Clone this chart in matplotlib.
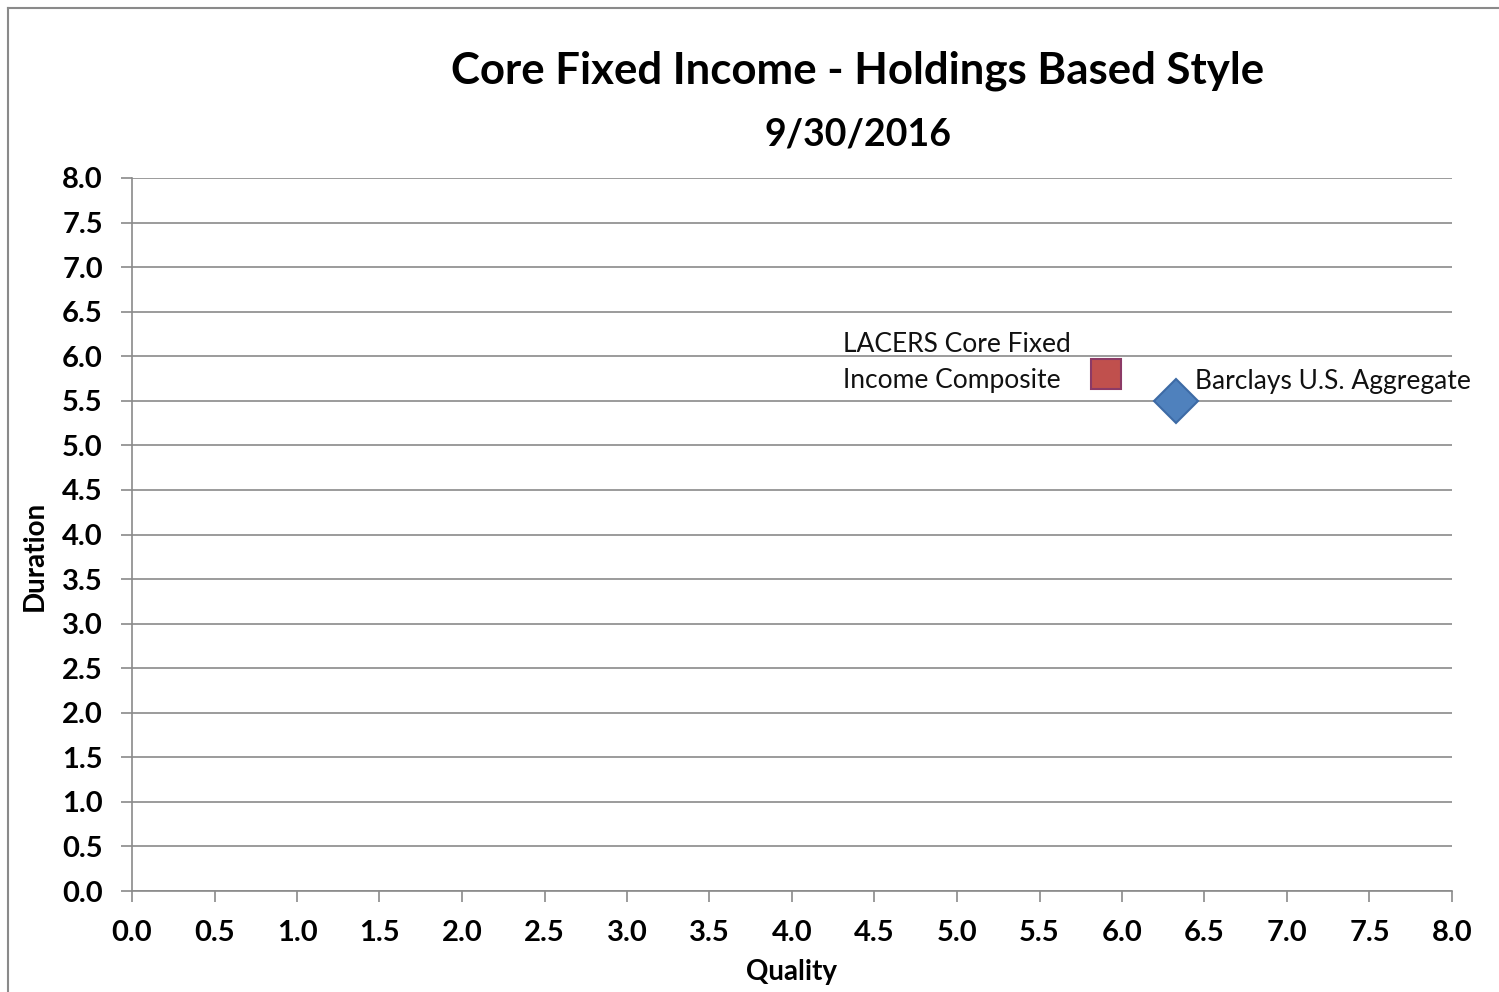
import matplotlib.pyplot as plt
from matplotlib.lines import Line2D

# data
names = ['LACERS Core Fixed\nIncome Composite', 'Barclays U.S. Aggregate']
quality = [5.9, 6.33]
duration = [5.8, 5.5]
markers = ['s', 'D']
face_cols = ['#C0504D', '#4F81BD']
edge_cols = ['#8C3A66', '#3D6AA5']
msizes = [21, 22]
# label offset in points, alignment
offsets = [(-25, 8), (13, 14)]
aligns = ['right', 'left']

ticks = [i * 0.5 for i in range(17)]

plt.rcParams['font.family'] = ['Lato', 'DejaVu Sans']

fig = plt.figure(figsize=(14.99, 9.92), dpi=100)
ax = fig.add_axes([132/1499, 1-891/992, 1320/1499, 713/992])

for q, d, mk, fc, ec, ms in zip(quality, duration, markers, face_cols, edge_cols, msizes):
    ax.plot(q, d, marker=mk, color=fc, markeredgecolor=ec, markersize=ms,
            markeredgewidth=1.5, linestyle='none', zorder=3)

for n, q, d, off, ha in zip(names, quality, duration, offsets, aligns):
    ax.annotate(n, (q, d), xytext=off, textcoords='offset points', ha=ha,
                multialignment='left', va='center', fontsize=19,
                linespacing=1.55, color='#111111')

ax.set_xlim(0, 8)
ax.set_ylim(0, 8)
ax.set_xticks(ticks)
ax.set_yticks(ticks)
ax.set_xticklabels([f'{t:.1f}' for t in ticks], fontsize=21, fontweight='bold')
ax.set_yticklabels([f'{t:.1f}' for t in ticks], fontsize=21, fontweight='bold')
ax.tick_params(axis='both', direction='out', length=8, width=1.2, color='#8a8a8a')
ax.tick_params(axis='y', pad=13)
ax.tick_params(axis='x', pad=13)

ax.grid(axis='y', color='#8a8a8a', linewidth=1.2)
ax.set_axisbelow(True)
for s in ['top', 'right']:
    ax.spines[s].set_visible(False)
for s in ['left', 'bottom']:
    ax.spines[s].set_color('#8a8a8a')
    ax.spines[s].set_linewidth(1.2)

ax.set_xlabel('Quality', fontsize=20, fontweight='bold')
ax.set_ylabel('Duration', fontsize=20, fontweight='bold')
ax.xaxis.set_label_coords(0.5, -0.095)
ax.yaxis.set_label_coords(-0.064, 0.47)

fig.text(858/1499, 1-71/992, 'Core Fixed Income - Holdings Based Style',
         ha='center', va='center', fontsize=31.5, fontweight='bold')
fig.text(858/1499, 1-135/992, '9/30/2016', ha='center', va='center',
         fontsize=27, fontweight='bold')

# outer chart border
fig.add_artist(Line2D([8/1499, 8/1499], [0, 1-8/992], color='#8a8a8a', lw=1.5))
fig.add_artist(Line2D([8/1499, 1], [1-8/992, 1-8/992], color='#8a8a8a', lw=1.5))

fig.savefig('out.png', dpi=100)
